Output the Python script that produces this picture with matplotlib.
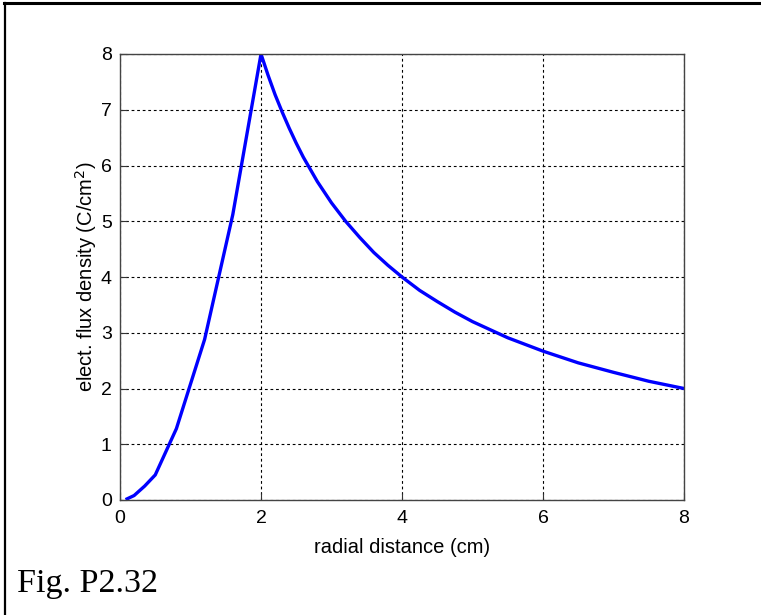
import matplotlib
matplotlib.use("Agg")
import matplotlib.pyplot as plt
from matplotlib.lines import Line2D

# radial distance (cm) and flux density (C/cm^2)
r_vals = [0.1, 0.2, 0.35, 0.5, 0.8, 1.2, 1.6, 2.0,
          2.1, 2.2, 2.3, 2.4, 2.5, 2.6, 2.7, 2.8, 2.9, 3.0, 3.2, 3.4,
          3.6, 3.8, 4.0, 4.25, 4.5, 4.75, 5.0, 5.5, 6.0, 6.5, 7.0, 7.5, 8.0]
d_vals = [0.02, 0.08, 0.25, 0.45, 1.28, 2.88, 5.12, 8.0,
          7.62, 7.27, 6.96, 6.67, 6.4, 6.15, 5.93, 5.71, 5.52, 5.33, 5.0, 4.71,
          4.44, 4.21, 4.0, 3.76, 3.56, 3.37, 3.2, 2.91, 2.67, 2.46, 2.29, 2.13, 2.0]

x_ticks = [0, 2, 4, 6, 8]
y_ticks = [0, 1, 2, 3, 4, 5, 6, 7, 8]

plt.rcParams['font.family'] = ['Liberation Sans', 'DejaVu Sans']

W, H = 761, 615
fig = plt.figure(figsize=(W / 100, H / 100), dpi=100)
ax = fig.add_axes([120 / W, 1 - 500 / H, 564 / W, 446 / H])

ax.plot(r_vals, d_vals, color='#0000ff', lw=2.4, solid_joinstyle='round')

ax.set_xlim(0, 8)
ax.set_ylim(0, 8)
ax.set_xticks(x_ticks)
ax.set_yticks(y_ticks)
ax.tick_params(direction='in', length=5, color='#333333', labelsize=14)
ax.tick_params(axis='x', pad=7)
ax.tick_params(axis='y', pad=6)
ax.grid(True, color='black', linestyle=(0, (2.5, 2.5)), linewidth=0.8)
for s in ax.spines.values():
    s.set_color('#444444')
    s.set_linewidth(1.0)

ax.set_xlabel('radial distance (cm)', fontsize=14.5, labelpad=8)
ax.set_ylabel('elect. flux density (C/cm$^2$)', fontsize=14.5, labelpad=1)

fig.text(17 / W, 1 - 592 / H, 'Fig. P2.32', family='Liberation Serif', fontsize=24.5)

# partial frame round the figure (top and left edges only)
fig.add_artist(Line2D([4 / W, 1], [1 - 2.5 / H, 1 - 2.5 / H], color='black', lw=2.2,
                      transform=fig.transFigure))
fig.add_artist(Line2D([4.5 / W, 4.5 / W], [0, 1 - 2.5 / H], color='black', lw=1.6,
                      transform=fig.transFigure))

fig.savefig('out.png', dpi=100)
